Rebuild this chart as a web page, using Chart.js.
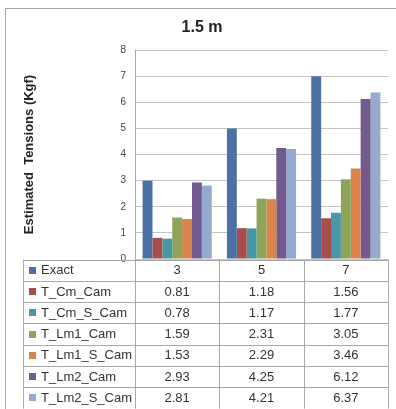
<!DOCTYPE html>
<html>
<head>
<meta charset="utf-8">
<script src="https://cdn.jsdelivr.net/npm/chart.js@4"></script>
<style>
  html, body { margin: 0; padding: 0; background: #fff; }
  #wrap { width: 396px; height: 409px; }
</style>
</head>
<body>
<div id="wrap"><canvas id="tensionChart" width="396" height="409"></canvas></div>
<script>
// Distances (m)
const distances = ['3', '5', '7'];

// Estimated tensions (Kgf) per method
const exact = [3, 5, 7];
const tCmCam = [0.81, 1.18, 1.56];
const tCmSCam = [0.78, 1.17, 1.77];
const tLm1Cam = [1.59, 2.31, 3.05];
const tLm1SCam = [1.53, 2.29, 3.46];
const tLm2Cam = [2.93, 4.25, 6.12];
const tLm2SCam = [2.81, 4.21, 6.37];

const yTicks = [0, 1, 2, 3, 4, 5, 6, 7, 8];

const seriesNames = ['Exact', 'T_Cm_Cam', 'T_Cm_S_Cam', 'T_Lm1_Cam', 'T_Lm1_S_Cam', 'T_Lm2_Cam', 'T_Lm2_S_Cam'];
const seriesValues = [exact, tCmCam, tCmSCam, tLm1Cam, tLm1SCam, tLm2Cam, tLm2SCam];
const seriesColors = ['#4a70a6', '#a74d4a', '#4797a9', '#8ea559', '#d8844b', '#735a8d', '#94aacf'];

const lineColor = '#a8a8a8';
const textColor = '#333333';

// Outer frame, chart title and the data table under the plot
const frameAndTable = {
    id: 'frameAndTable',
    afterDraw(chart) {
        const ctx = chart.ctx;
        const area = chart.chartArea;
        const x = chart.scales.x;
        ctx.save();

        // frame
        ctx.strokeStyle = lineColor;
        ctx.lineWidth = 1;
        ctx.strokeRect(5.5, 8.5, 600, 600);

        // title
        ctx.fillStyle = '#222';
        ctx.font = 'bold 16px "Liberation Sans", Arial, sans-serif';
        ctx.textAlign = 'center';
        ctx.textBaseline = 'middle';
        ctx.fillText('1.5 m', 202, 28);

        // table grid
        const top = Math.round(area.bottom) + 0.5;
        const rowH = 21.3;
        const left = 23.5;
        const bottom = top + rowH * seriesNames.length;
        const catW = (area.right - area.left) / distances.length;

        ctx.beginPath();
        for (let r = 0; r <= seriesNames.length; r++) {
            const yy = Math.round(top + r * rowH) + 0.5;
            ctx.moveTo(left, yy);
            ctx.lineTo(area.right, yy);
        }
        ctx.moveTo(left, top);
        ctx.lineTo(left, bottom);
        for (let c = 0; c <= distances.length; c++) {
            const xx = Math.round(area.left + c * catW) + 0.5;
            ctx.moveTo(xx, top);
            ctx.lineTo(xx, bottom);
        }
        ctx.stroke();

        // rows: legend key, name, values
        ctx.font = '13px "Liberation Sans", Arial, sans-serif';
        ctx.textBaseline = 'middle';
        seriesNames.forEach((name, r) => {
            const cy = top + r * rowH + rowH / 2 + 0.5;
            ctx.fillStyle = seriesColors[r];
            ctx.fillRect(29, Math.round(cy - 4), 7, 7);
            ctx.fillStyle = textColor;
            ctx.textAlign = 'left';
            ctx.fillText(name, 41, cy);
            ctx.textAlign = 'center';
            seriesValues[r].forEach((v, i) => {
                ctx.fillText(String(v), x.getPixelForValue(i), cy);
            });
        });
        ctx.restore();
    }
};

const ctx = document.getElementById('tensionChart').getContext('2d');
const tensionChart = new Chart(ctx, {
    type: 'bar',
    data: {
        labels: distances,
        datasets: seriesNames.map((name, i) => ({
            label: name,
            data: seriesValues[i],
            backgroundColor: seriesColors[i],
            borderWidth: 0,
            categoryPercentage: 0.82,
            barPercentage: 1.0
        }))
    },
    options: {
        responsive: false,
        animation: false,
        layout: {
            padding: { left: 5, right: 8, top: 50, bottom: 150 }
        },
        plugins: {
            legend: { display: false },
            title: { display: false },
            tooltip: { enabled: false }
        },
        scales: {
            x: {
                display: false
            },
            y: {
                min: yTicks[0],
                max: yTicks[yTicks.length - 1],
                afterFit: function(scale) {
                    scale.width = 130;
                },
                afterBuildTicks: function(scale) {
                    scale.ticks = yTicks.map(v => ({ value: v }));
                },
                ticks: {
                    padding: 9,
                    color: '#444',
                    font: { size: 10, family: '"Liberation Sans", Arial, sans-serif' }
                },
                grid: {
                    color: '#c4c4c4',
                    drawTicks: false
                },
                border: {
                    display: true,
                    color: lineColor
                },
                title: {
                    display: true,
                    text: 'Estimated  Tensions (Kgf)',
                    color: '#222',
                    padding: { top: 17, bottom: 0 },
                    font: { size: 13, weight: 'bold', family: '"Liberation Sans", Arial, sans-serif' }
                }
            }
        }
    },
    plugins: [frameAndTable]
});
</script>
</body>
</html>
